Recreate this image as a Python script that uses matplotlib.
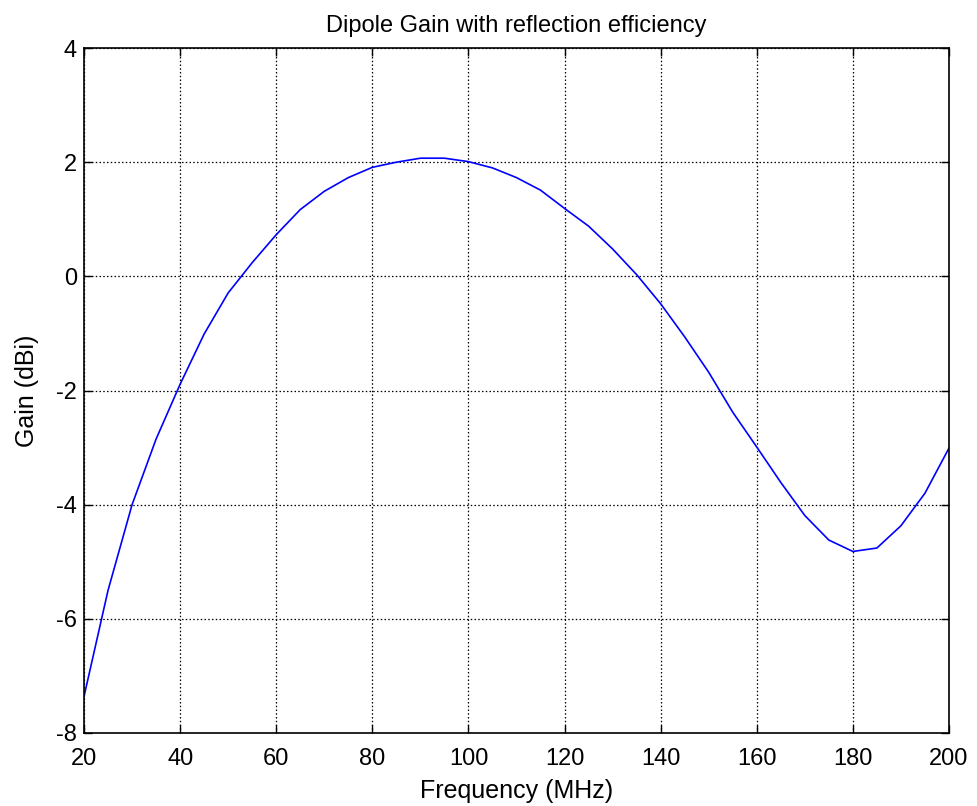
import matplotlib

matplotlib.use("Agg")
from matplotlib import pyplot as plt

plt.rcParams["font.family"] = ["Liberation Sans", "DejaVu Sans"]
plt.rcParams["axes.unicode_minus"] = False

freq_mhz = [20, 25, 30, 35, 40, 45, 50, 55, 60, 65, 70, 75, 80, 85, 90, 95,
            100, 105, 110, 115, 120, 125, 130, 135, 140, 145, 150, 155, 160,
            165, 170, 175, 180, 185, 190, 195, 200]
gain_dbi = [-7.36, -5.50, -4.00, -2.85, -1.89, -1.01, -0.29, 0.24, 0.73,
            1.17, 1.49, 1.73, 1.91, 2.00, 2.07, 2.07, 2.01, 1.90, 1.73,
            1.51, 1.19, 0.88, 0.48, 0.03, -0.48, -1.06, -1.68, -2.38, -2.99,
            -3.61, -4.19, -4.62, -4.82, -4.76, -4.37, -3.80, -3.01]

x_ticks = [20, 40, 60, 80, 100, 120, 140, 160, 180, 200]
y_ticks = [-8, -6, -4, -2, 0, 2, 4]

fig = plt.figure(figsize=(9.77, 8.06), dpi=100)
fig.set_facecolor("w")
ax = fig.add_axes([0.086, 0.0906, 0.8853, 0.8498])

ax.plot(freq_mhz, gain_dbi, color=(0, 0, 1), lw=1.2)

ax.set_xlim(20, 200)
ax.set_ylim(-8, 4)
ax.set_xticks(x_ticks)
ax.set_yticks(y_ticks)
ax.grid(True, color="k", linestyle=(0, (1.2, 1.8)), linewidth=0.9)
ax.tick_params(direction="in", length=6, width=1, top=True, right=True,
               labelsize=17, colors="k")
ax.tick_params(axis="x", pad=11)
ax.tick_params(axis="y", pad=5)
for spine in ax.spines.values():
    spine.set_linewidth(1.2)

ax.set_title("Dipole Gain with reflection efficiency", fontsize=17, pad=11.5)
ax.set_xlabel("Frequency (MHz)", fontsize=18, labelpad=6)
ax.set_ylabel("Gain (dBi)", fontsize=18, labelpad=12)

fig.savefig("out.png", dpi=100)
plt.close(fig)
